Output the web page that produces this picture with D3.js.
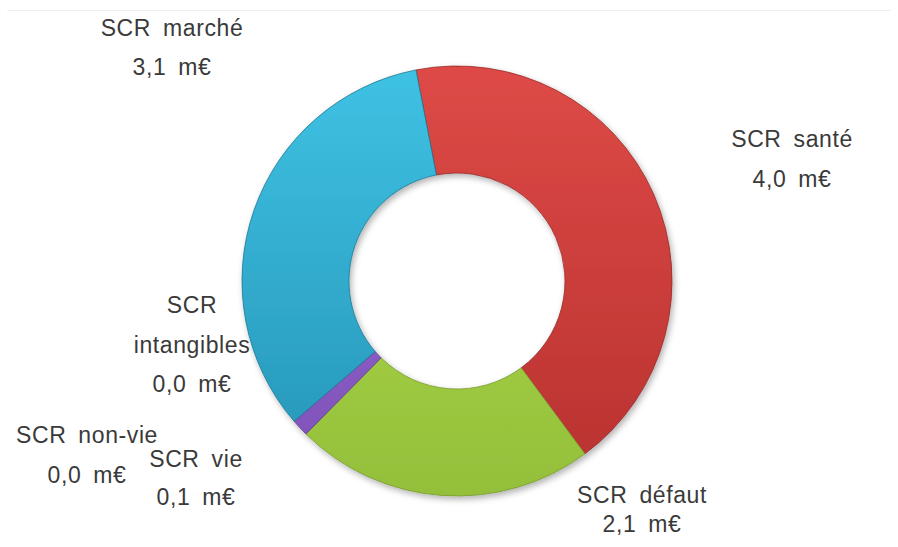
<!DOCTYPE html>
<html>
<head>
<meta charset="utf-8">
<script src="https://cdn.jsdelivr.net/npm/d3@7"></script>
<style>
	body { margin: 0; background: #fff; }
	svg text { font-family: "Liberation Sans", Arial, sans-serif; font-size: 23px; fill: #3a3a3a; letter-spacing: 0.6px; word-spacing: 5px; }
</style>
</head>
<body>
<div id="chart"></div>
<script>
var categories = ["SCR santé", "SCR défaut", "SCR vie", "SCR non-vie", "SCR intangibles", "SCR marché"]
var values = [4.0, 2.1, 0.12, 0.0, 0.0, 3.1]
var units = "m€"

var width = 898
var height = 547
var center = {x: 457, y: 281}
var outer_radius = 215
var inner_radius = 108

var colors = {
	"SCR santé": ["#de4a47", "#b7312f"],
	"SCR défaut": ["#b6e052", "#93bf3a"],
	"SCR vie": ["#9c70d6", "#7c50b6"],
	"SCR non-vie": ["#9c70d6", "#7c50b6"],
	"SCR intangibles": ["#9c70d6", "#7c50b6"],
	"SCR marché": ["#3fc2e4", "#2493b5"]
}

// label anchors (text centre, first baseline, line step)
var label_layout = {
	"SCR santé": {x: 792, y: 147, step: 40, lines: ["SCR santé"]},
	"SCR défaut": {x: 642, y: 503, step: 29, lines: ["SCR défaut"]},
	"SCR vie": {x: 196, y: 467, step: 38, lines: ["SCR vie"]},
	"SCR non-vie": {x: 87, y: 443, step: 40, lines: ["SCR non-vie"]},
	"SCR intangibles": {x: 192, y: 313, step: 39.5, lines: ["SCR", "intangibles"]},
	"SCR marché": {x: 172, y: 36, step: 39, lines: ["SCR marché"]}
}

var fmt = (v) => d3.format(".1f")(v).replace(".", ",") + " " + units

var svg = d3.select("#chart")
	.append("svg")
		.attr("width", width)
		.attr("height", height)

var defs = svg.append("defs")
var shadow = defs.append("filter")
	.attr("id", "shadow")
	.attr("x", "-20%").attr("y", "-20%")
	.attr("width", "140%").attr("height", "140%")
shadow.append("feDropShadow")
	.attr("dx", 2).attr("dy", 3)
	.attr("stdDeviation", 3)
	.attr("flood-color", "#000")
	.attr("flood-opacity", 0.3)

// one vertical gradient per slice, in the donut group's coordinates
categories.forEach((c, i) => {
	var g = defs.append("linearGradient")
		.attr("id", "grad" + i)
		.attr("gradientUnits", "userSpaceOnUse")
		.attr("x1", 0).attr("x2", 0)
		.attr("y1", -outer_radius)
		.attr("y2", outer_radius)
	g.append("stop").attr("offset", "0%").attr("stop-color", colors[c][0])
	g.append("stop").attr("offset", "100%").attr("stop-color", colors[c][1])
})

// faint frame line at the top
svg.append("line")
	.attr("x1", 7).attr("x2", 891)
	.attr("y1", 10.5).attr("y2", 10.5)
	.attr("stroke", "#efefef")
	.attr("stroke-width", 1)

var start_angle = -11 * Math.PI / 180
var pie = d3.pie()
	.sort(null)
	.value((d) => d)
	.startAngle(start_angle)
	.endAngle(start_angle + 2 * Math.PI)
var arc = d3.arc()
	.innerRadius(inner_radius)
	.outerRadius(outer_radius)

var arcs = pie(values)

var donut = svg.append("g")
	.attr("class", "donut")
	.attr("transform", "translate(" + center.x + ", " + center.y + ")")
	.attr("filter", "url(#shadow)")

donut.selectAll("path.slice")
	.data(arcs.filter((d) => d.value > 0))
	.enter()
	.append("path")
		.attr("class", "slice")
		.attr("d", arc)
		.attr("fill", (d) => "url(#grad" + d.index + ")")
		.attr("stroke", (d) => d3.color(colors[categories[d.index]][1]).darker(0.6))
		.attr("stroke-width", 0.8)

var labels = svg.append("g").attr("class", "labels")
categories.forEach((c, i) => {
	var lay = label_layout[c]
	var lines = lay.lines.concat([fmt(values[i])])
	var t = labels.append("text")
		.attr("text-anchor", "middle")
	lines.forEach((s, j) => {
		t.append("tspan")
			.attr("x", lay.x)
			.attr("y", lay.y + j * lay.step)
			.text(s)
	})
})
</script>
</body>
</html>
